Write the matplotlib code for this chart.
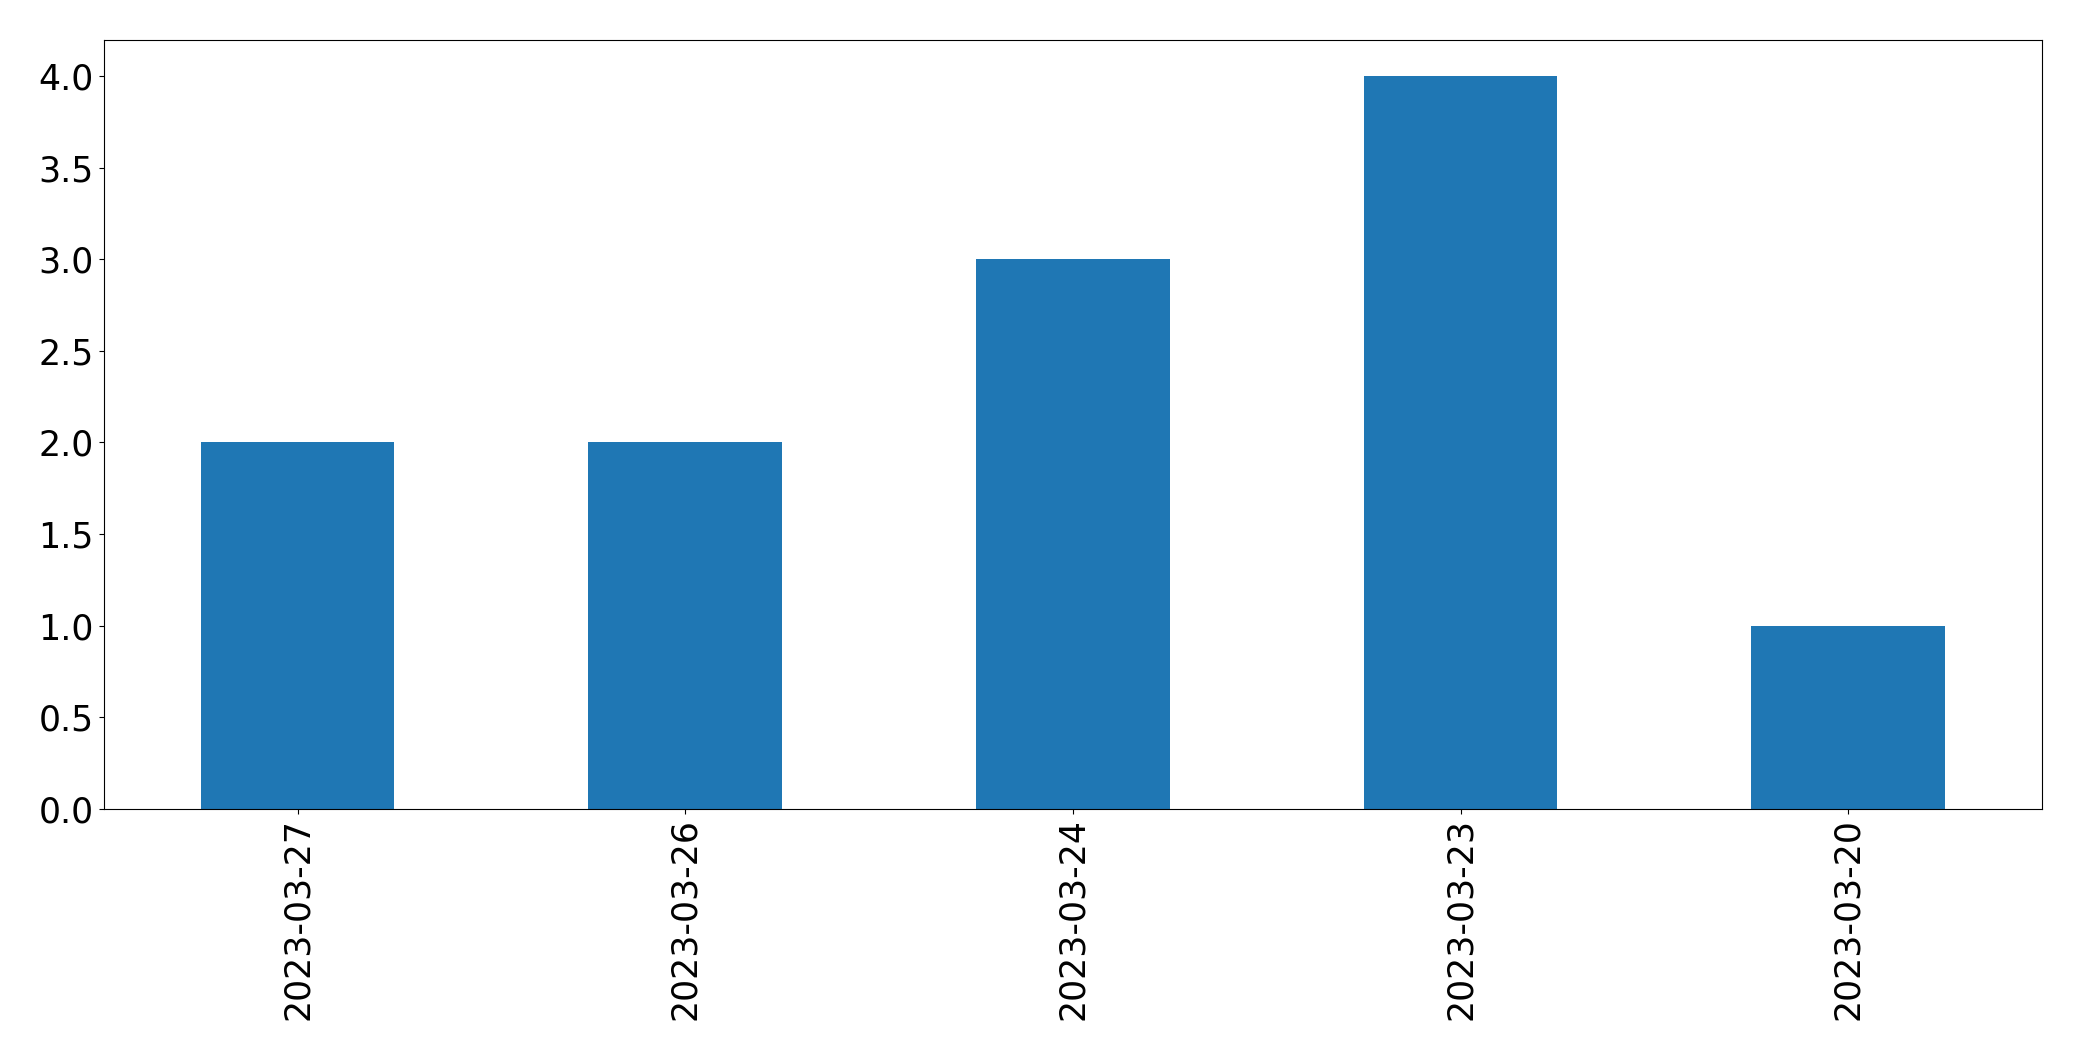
import matplotlib
matplotlib.use("Agg")
from matplotlib import pyplot as plt
import pandas as pd

dates = ["2023-03-27", "2023-03-26", "2023-03-24", "2023-03-23", "2023-03-20"]
counts = [2, 2, 3, 4, 1]

s = pd.Series(counts, index=dates)

fig = plt.figure(figsize=(20.82, 10.61), dpi=100)
ax = fig.add_subplot(111)
s.plot(kind="bar", ax=ax, color="#1f77b4", fontsize=25)
ax.tick_params(axis="both", labelsize=25)
fig.subplots_adjust(left=0.0498, right=0.9808, top=0.9625, bottom=0.2379)
fig.savefig("out.png", dpi=100)
